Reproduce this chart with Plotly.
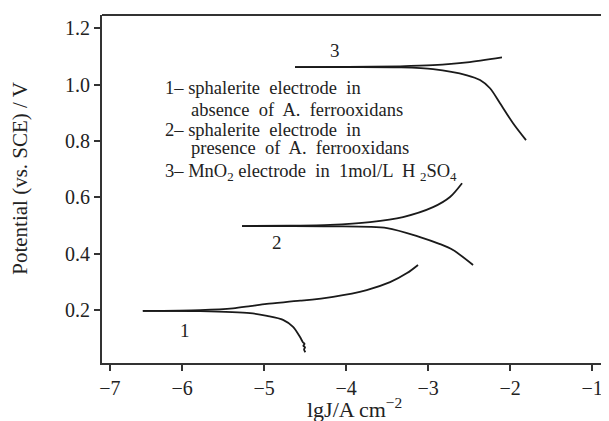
import plotly.graph_objects as go

# ---- data ----
# curve 1: sphalerite electrode in absence of A. ferrooxidans
c1_anodic_x = [-6.478, -5.778, -5.378, -5.168, -4.968, -4.558, -4.158, -3.748, -3.463, -3.256, -3.122]
c1_anodic_y = [0.197, 0.200, 0.206, 0.214, 0.222, 0.233, 0.247, 0.271, 0.299, 0.331, 0.360]
c1_cathodic_x = [-6.478, -5.778, -5.171, -4.963, -4.768, -4.646, -4.561, -4.524, -4.506, -4.520, -4.500, -4.512, -4.496]
c1_cathodic_y = [0.197, 0.196, 0.189, 0.179, 0.165, 0.140, 0.104, 0.085, 0.080, 0.073, 0.068, 0.060, 0.050]

# curve 2: sphalerite electrode in presence of A. ferrooxidans
c2_anodic_x = [-5.268, -4.678, -4.195, -3.708, -3.305, -2.939, -2.732, -2.585]
c2_anodic_y = [0.498, 0.499, 0.502, 0.512, 0.530, 0.565, 0.601, 0.650]
c2_cathodic_x = [-5.268, -4.678, -4.195, -3.500, -3.098, -2.854, -2.695, -2.451]
c2_cathodic_y = [0.498, 0.498, 0.497, 0.491, 0.459, 0.434, 0.413, 0.360]

# curve 3: MnO2 electrode in 1 mol/L H2SO4
c3_anodic_x = [-4.622, -3.978, -3.341, -2.939, -2.524, -2.098]
c3_anodic_y = [1.062, 1.063, 1.065, 1.069, 1.079, 1.097]
c3_cathodic_x = [-4.622, -3.978, -3.341, -2.939, -2.524, -2.366, -2.244, -2.122, -1.963, -1.805]
c3_cathodic_y = [1.062, 1.062, 1.061, 1.055, 1.033, 1.016, 0.987, 0.934, 0.863, 0.803]

# tick positions as they sit in the reference (its "-7" tick is drawn just inside the axis)
x_tickvals = [-6.88, -6, -5, -4, -3, -2, -1]
x_ticktext = ["\u22127", "\u22126", "\u22125", "\u22124", "\u22123", "\u22122", "\u22121"]
y_tickvals = [0.2, 0.4, 0.6, 0.8, 1.0, 1.2]
y_ticktext = ["0.2", "0.4", "0.6", "0.8", "1.0", "1.2"]

curve_labels = ["1", "2", "3"]
curve_label_x = [-5.968, -4.838, -4.138]
curve_label_y = [0.129, 0.438, 1.122]

legend_lines = [
    "1\u2013 sphalerite  electrode  in",
    "absence  of  A.  ferrooxidans",
    "2\u2013 sphalerite  electrode  in",
    "presence  of  A.  ferrooxidans",
    "3\u2013 MnO<sub>2</sub> electrode  in  1mol/L  H <sub>2</sub>SO<sub>4</sub>",
]
legend_x = [-6.232, -5.915, -6.232, -5.915, -6.232]
legend_y = [0.987, 0.910, 0.838, 0.775, 0.689]

x_title = "lgJ/A cm<sup>\u22122</sup>"
y_title = "Potential (vs. SCE) / V"

FONT = "Liberation Serif, Times New Roman, serif"
LINE = dict(color="#1a1a1a", width=1.8, shape="spline", smoothing=0.8)

fig = go.Figure()
for xs, ys in [(c1_anodic_x, c1_anodic_y), (c1_cathodic_x, c1_cathodic_y),
               (c2_anodic_x, c2_anodic_y), (c2_cathodic_x, c2_cathodic_y),
               (c3_anodic_x, c3_anodic_y), (c3_cathodic_x, c3_cathodic_y)]:
    fig.add_trace(go.Scatter(x=xs, y=ys, mode="lines", line=LINE,
                             showlegend=False, hoverinfo="skip"))

annotations = []
for t, x, y in zip(curve_labels, curve_label_x, curve_label_y):
    annotations.append(dict(x=x, y=y, xref="x", yref="y", text=t, showarrow=False,
                            font=dict(family=FONT, size=19, color="#222")))
for t, x, y in zip(legend_lines, legend_x, legend_y):
    annotations.append(dict(x=x, y=y, xref="x", yref="y", text=t, showarrow=False,
                            xanchor="left", yanchor="middle",
                            font=dict(family=FONT, size=18.5, color="#222")))
annotations.append(dict(x=0.499, y=-0.129, xref="paper", yref="paper", text=x_title,
                        showarrow=False, xanchor="center", yanchor="middle",
                        font=dict(family=FONT, size=22, color="#222")))
annotations.append(dict(x=-0.162, y=0.532, xref="paper", yref="paper", text=y_title,
                        showarrow=False, xanchor="center", yanchor="middle", textangle=-90,
                        font=dict(family=FONT, size=21, color="#222")))

# the page body has an 8px margin, so the figure is sized/placed to compensate
fig.update_layout(
    width=601, height=413,
    margin=dict(l=94, r=0, t=7, b=58),
    paper_bgcolor="white", plot_bgcolor="white",
    font=dict(family=FONT, size=20, color="#222"),
    annotations=annotations,
    xaxis=dict(range=[-6.976, -0.793], tickvals=x_tickvals, ticktext=x_ticktext,
               ticks="outside", ticklen=6,
               tickwidth=2, tickcolor="#333", showline=True, linewidth=2, linecolor="#333",
               mirror=False, showgrid=False, zeroline=False, automargin=False),
    yaxis=dict(range=[0.012, 1.247], tickvals=y_tickvals, ticktext=y_ticktext,
               ticks="outside", ticklen=6, tickwidth=2, tickcolor="#333",
               showline=True, linewidth=2, linecolor="#333", showgrid=False, zeroline=False,
               automargin=False),
)
# top border of the frame
fig.add_shape(type="line", xref="paper", yref="paper", x0=0, x1=1, y0=1, y1=1,
              line=dict(color="#333", width=2))

fig.write_html("out.html")
